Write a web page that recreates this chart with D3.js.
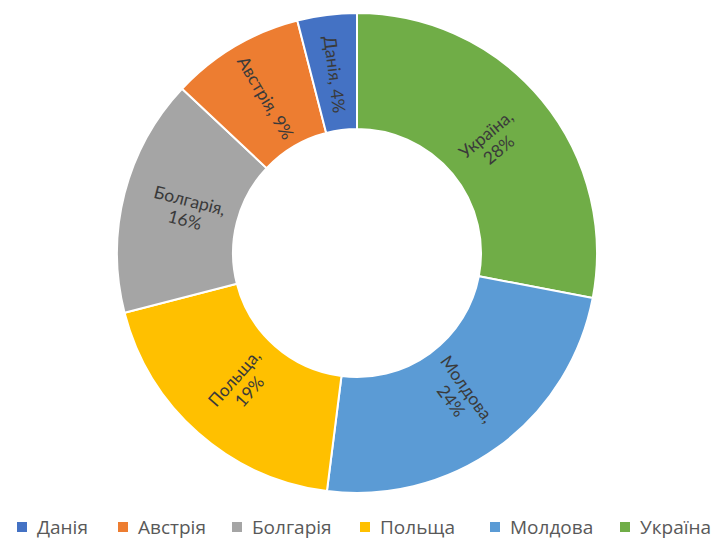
<!DOCTYPE html>
<html><head><meta charset="utf-8">
<script src="https://cdn.jsdelivr.net/npm/d3@7"></script>
<style>body{margin:0;background:#fff}svg{display:block}</style>
</head><body>
<svg id="chart" width="712" height="546"></svg>
<script>
const categories = ["Україна", "Молдова", "Польща", "Болгарія", "Австрія", "Данія"];
const values = [28, 24, 19, 16, 9, 4];
const colors = ["#70AD47", "#5B9BD5", "#FFC000", "#A5A5A5", "#ED7D31", "#4472C4"];
const legendOrder = ["Данія", "Австрія", "Болгарія", "Польща", "Молдова", "Україна"];
const singleLine = ["Австрія", "Данія"];

const svg = d3.select("#chart");
const cx = 357, cy = 253, rOuter = 240, rInner = 124;
const data = categories.map((c, i) => ({ name: c, value: values[i], color: colors[i] }));
const pie = d3.pie().value(d => d.value).sort(null);
const arcs = pie(data);
const arc = d3.arc().innerRadius(rInner).outerRadius(rOuter);
const g = svg.append("g").attr("transform", `translate(${cx},${cy})`);
g.selectAll("path").data(arcs).join("path")
  .attr("d", arc).attr("fill", d => d.data.color)
  .attr("stroke", "#fff").attr("stroke-width", 2);

const labelFont = "Lato, 'Noto Sans', sans-serif";
const lab = g.selectAll("g.lab").data(arcs).join("g").attr("class", "lab")
  .attr("transform", d => {
    const a = (d.startAngle + d.endAngle) / 2;
    const r = singleLine.includes(d.data.name) ? 180 : 175;
    const x = Math.sin(a) * r, y = -Math.cos(a) * r;
    let rot = a * 180 / Math.PI - 90;
    if (rot > 90) rot -= 180;
    return `translate(${x},${y}) rotate(${rot})`;
  });
lab.each(function(d) {
  const sel = d3.select(this);
  const base = sel.append("text").attr("text-anchor", "middle")
    .attr("font-family", labelFont).attr("font-size", 17.5).attr("fill", "#3a3a3a");
  if (singleLine.includes(d.data.name)) {
    base.attr("y", 6).text(d.data.name + ", " + d.data.value + "%");
  } else {
    base.attr("y", -3).text(d.data.name + ",");
    sel.append("text").attr("text-anchor", "middle").attr("y", 17)
      .attr("font-family", labelFont).attr("font-size", 17.5).attr("fill", "#3a3a3a")
      .text(d.data.value + "%");
  }
});

const legendX = [17, 118, 232, 360, 490, 620];
const leg = svg.append("g");
legendOrder.forEach((name, i) => {
  const idx = categories.indexOf(name);
  leg.append("rect").attr("x", legendX[i]).attr("y", 522).attr("width", 10).attr("height", 10).attr("fill", colors[idx]);
  leg.append("text").attr("x", legendX[i] + 20).attr("y", 534)
    .attr("font-family", "'Open Sans', sans-serif").attr("font-size", 19).attr("fill", "#595959")
    .text(name);
});
</script>
</body></html>
